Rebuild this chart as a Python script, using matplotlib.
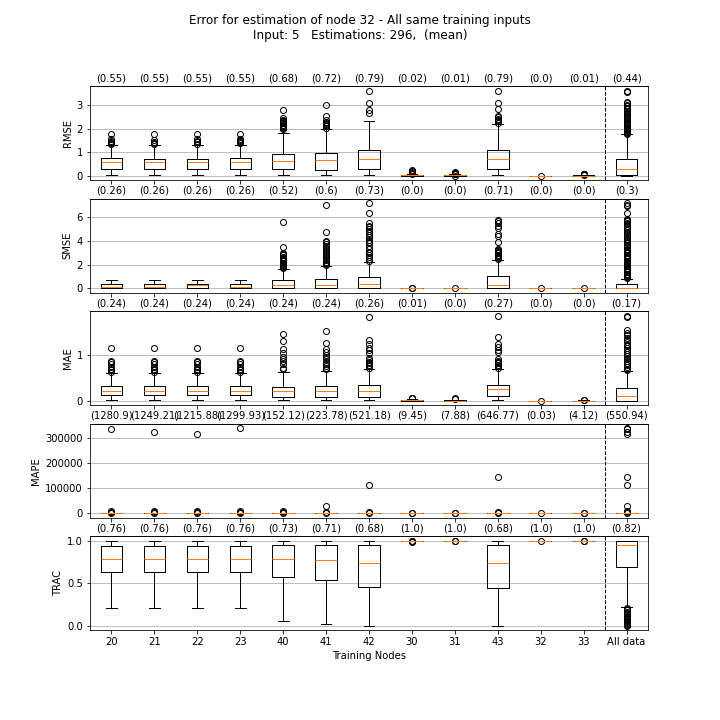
import matplotlib
matplotlib.use("Agg")
import matplotlib.pyplot as plt

# ---------------- data ----------------
nodes = ['20', '21', '22', '23', '40', '41', '42', '30', '31', '43', '32', '33', 'All data']
metrics = ['RMSE', 'SMSE', 'MAE', 'MAPE', 'TRAC']

# RMSE
rmse_q1 = [0.30, 0.30, 0.30, 0.30, 0.30, 0.25, 0.30, 0.0, 0.0, 0.30, 0.0, 0.0, 0.04]
rmse_med = [0.59, 0.59, 0.59, 0.59, 0.64, 0.68, 0.72, 0.02, 0.02, 0.72, 0.0, 0.01, 0.28]
rmse_q3 = [0.75, 0.72, 0.72, 0.75, 0.93, 0.97, 1.10, 0.05, 0.04, 1.10, 0.0, 0.02, 0.72]
rmse_lo = [0.04, 0.04, 0.04, 0.04, 0.04, 0.04, 0.04, 0.0, 0.0, 0.04, 0.0, 0.0, 0.0]
rmse_hi = [1.30, 1.30, 1.30, 1.30, 1.82, 1.99, 2.33, 0.09, 0.07, 2.20, 0.0, 0.03, 1.79]
rmse_fl = [
    [1.36, 1.40, 1.45, 1.50, 1.55, 1.79],
    [1.35, 1.40, 1.45, 1.52, 1.79],
    [1.36, 1.42, 1.47, 1.55, 1.79],
    [1.38, 1.43, 1.47, 1.52, 1.57, 1.79],
    [1.98, 2.03, 2.08, 2.13, 2.18, 2.23, 2.28, 2.33, 2.38, 2.47, 2.78],
    [2.05, 2.10, 2.15, 2.20, 2.25, 2.30, 2.36, 2.55, 3.00],
    [2.66, 2.80, 3.08, 3.60],
    [0.10, 0.14, 0.18, 0.22, 0.27],
    [0.0, 0.07, 0.10, 0.13, 0.16],
    [2.26, 2.32, 2.37, 2.42, 2.48, 2.55, 2.85, 3.10, 3.60],
    [0.0],
    [0.04, 0.06, 0.08, 0.10],
    [1.78, 1.82, 1.86, 1.90, 1.95, 2.00, 2.05, 2.10, 2.15, 2.20, 2.25, 2.30, 2.35,
     2.40, 2.45, 2.50, 2.56, 2.62, 2.68, 2.75, 2.82, 2.88, 2.95, 3.02, 3.08, 3.14,
     3.58, 3.62],
]
rmse_mean = ['0.55', '0.55', '0.55', '0.55', '0.68', '0.72', '0.79', '0.02', '0.01', '0.79', '0.0', '0.01', '0.44']

# SMSE
smse_q1 = [0.06, 0.06, 0.06, 0.06, 0.0, 0.0, 0.0, 0.0, 0.0, 0.0, 0.0, 0.0, 0.0]
smse_med = [0.14, 0.14, 0.27, 0.14, 0.28, 0.28, 0.34, 0.0, 0.0, 0.28, 0.0, 0.0, 0.01]
smse_q3 = [0.34, 0.34, 0.34, 0.34, 0.68, 0.76, 0.93, 0.002, 0.001, 1.05, 0.0, 0.0, 0.34]
smse_lo = [0.0, 0.0, 0.0, 0.0, 0.0, 0.0, 0.0, 0.0, 0.0, 0.0, 0.0, 0.0, 0.0]
smse_hi = [0.74, 0.74, 0.74, 0.74, 1.61, 1.90, 2.26, 0.005, 0.003, 2.38, 0.0, 0.0, 0.80]
smse_fl = [
    [], [], [], [],
    [1.68, 1.78, 1.88, 1.98, 2.08, 2.18, 2.28, 2.38, 2.48, 2.58, 2.68, 2.80, 2.92, 3.02, 3.50, 5.60],
    [1.95, 2.05, 2.15, 2.25, 2.40, 2.55, 2.70, 2.85, 3.00, 3.15, 3.30, 3.45, 3.60, 3.75,
     3.90, 4.00, 4.72, 7.02],
    [2.35, 2.50, 2.65, 2.80, 2.95, 3.10, 3.30, 3.55, 3.80, 3.90, 4.10, 4.30, 4.50, 4.70,
     4.85, 5.00, 5.15, 5.25, 5.50, 6.35, 7.20],
    [0.01, 0.03],
    [0.01],
    [2.45, 2.55, 2.65, 2.75, 2.85, 2.95, 3.05, 3.15, 3.25, 3.35, 3.90, 4.45, 4.55, 5.10,
     5.30, 5.55, 5.70, 5.80],
    [0.0],
    [0.01],
    [0.85, 0.95, 1.05, 1.15, 1.25, 1.35, 1.45, 1.55, 1.65, 1.75, 1.85, 1.95, 2.05, 2.15,
     2.25, 2.35, 2.45, 2.55, 2.65, 2.75, 2.85, 2.95, 3.05, 3.15, 3.25, 3.35, 3.50, 3.65,
     3.80, 3.90, 4.05, 4.20, 4.35, 4.50, 4.65, 4.80, 4.95, 5.10, 5.25, 5.40, 5.55, 5.70,
     5.80, 5.90, 6.35, 6.95, 7.05, 7.20],
]
smse_mean = ['0.26', '0.26', '0.26', '0.26', '0.52', '0.6', '0.73', '0.0', '0.0', '0.71', '0.0', '0.0', '0.3']

# MAE
mae_q1 = [0.13, 0.13, 0.13, 0.13, 0.09, 0.09, 0.09, 0.0, 0.0, 0.11, 0.0, 0.0, 0.0]
mae_med = [0.22, 0.22, 0.22, 0.22, 0.22, 0.22, 0.22, 0.01, 0.005, 0.25, 0.0, 0.003, 0.11]
mae_q3 = [0.33, 0.33, 0.33, 0.33, 0.30, 0.33, 0.35, 0.02, 0.01, 0.35, 0.0, 0.006, 0.28]
mae_lo = [0.02, 0.02, 0.02, 0.02, 0.02, 0.02, 0.02, 0.0, 0.0, 0.02, 0.0, 0.0, 0.0]
mae_hi = [0.60, 0.60, 0.60, 0.60, 0.62, 0.65, 0.70, 0.04, 0.02, 0.70, 0.0, 0.012, 0.65]
mae_fl = [
    [0.63, 0.66, 0.70, 0.74, 0.79, 0.84, 0.87, 1.15],
    [0.63, 0.66, 0.70, 0.74, 0.79, 0.84, 0.87, 1.15],
    [0.63, 0.66, 0.70, 0.74, 0.79, 0.84, 0.87, 1.15],
    [0.63, 0.66, 0.70, 0.74, 0.79, 0.84, 0.87, 1.15],
    [0.69, 0.72, 0.80, 0.86, 0.91, 0.96, 1.04, 1.13, 1.30, 1.44],
    [0.68, 0.72, 0.76, 0.80, 0.85, 0.90, 0.95, 1.00, 1.05, 1.12, 1.26, 1.52],
    [0.72, 0.75, 0.78, 0.81, 0.84, 0.88, 0.92, 1.04, 1.10, 1.15, 1.23, 1.31, 1.83],
    [0.05, 0.06, 0.07],
    [0.03, 0.05],
    [0.72, 0.75, 0.78, 0.81, 0.84, 0.87, 0.90, 1.05, 1.11, 1.17, 1.23, 1.39, 1.84],
    [0.0],
    [0.015, 0.02],
    [0.66, 0.70, 0.74, 0.78, 0.82, 0.86, 0.90, 0.94, 0.98, 1.02, 1.06, 1.10, 1.14, 1.18,
     1.22, 1.27, 1.32, 1.37, 1.43, 1.48, 1.53, 1.82, 1.85],
]
mae_mean = ['0.24', '0.24', '0.24', '0.24', '0.24', '0.24', '0.26', '0.01', '0.0', '0.27', '0.0', '0.0', '0.17']

# MAPE
mape_q1 = [0.3, 0.3, 0.3, 0.3, 0.3, 0.3, 0.3, 0.05, 0.05, 0.3, 0.0, 0.02, 0.1]
mape_med = [0.8, 0.8, 0.8, 0.8, 0.8, 0.8, 0.8, 0.1, 0.1, 0.8, 0.0, 0.05, 0.4]
mape_q3 = [2.0, 2.0, 2.0, 2.0, 2.0, 2.0, 2.0, 0.3, 0.3, 2.0, 0.0, 0.1, 1.2]
mape_lo = [0.0, 0.0, 0.0, 0.0, 0.0, 0.0, 0.0, 0.0, 0.0, 0.0, 0.0, 0.0, 0.0]
mape_hi = [4.0, 4.0, 4.0, 4.0, 4.0, 4.0, 4.0, 0.6, 0.6, 4.0, 0.0, 0.2, 3.0]
mape_fl = [
    [1500, 5000, 10000, 336000],
    [1500, 5000, 10000, 324000],
    [1500, 5000, 10000, 316000],
    [1500, 5000, 10000, 340000],
    [1500, 5000, 10000],
    [1500, 5000, 28000],
    [1500, 5000, 112000],
    [500, 1500],
    [500, 1500],
    [1500, 5000, 144000],
    [0.5],
    [300, 1000],
    [1500, 5000, 10000, 28000, 112000, 144000, 316000, 324000, 336000, 340000],
]
mape_mean = ['1280.9', '1249.21', '1215.88', '1299.93', '152.12', '223.78', '521.18',
             '9.45', '7.88', '646.77', '0.03', '4.12', '550.94']

# TRAC
trac_q1 = [0.63, 0.63, 0.63, 0.63, 0.57, 0.54, 0.46, 1.0, 1.0, 0.445, 1.0, 1.0, 0.69]
trac_med = [0.78, 0.78, 0.78, 0.78, 0.785, 0.77, 0.74, 1.0, 1.0, 0.74, 1.0, 1.0, 0.953]
trac_q3 = [0.94, 0.94, 0.94, 0.94, 0.95, 0.95, 0.95, 1.0, 1.0, 0.95, 1.0, 1.0, 1.0]
trac_lo = [0.21, 0.21, 0.21, 0.21, 0.055, 0.02, 0.0, 1.0, 1.0, 0.0, 1.0, 1.0, 0.22]
trac_hi = [1.0, 1.0, 1.0, 1.0, 1.0, 1.0, 1.0, 1.0, 1.0, 1.0, 1.0, 1.0, 1.0]
trac_fl = [
    [], [], [], [], [], [], [],
    [0.985, 0.99, 0.995],
    [0.99, 0.995],
    [],
    [0.998],
    [0.995, 0.998],
    [0.0, 0.01, 0.02, 0.03, 0.045, 0.06, 0.075, 0.09, 0.105, 0.12, 0.135, 0.15, 0.165,
     0.18, 0.195, 0.21],
]
trac_mean = ['0.76', '0.76', '0.76', '0.76', '0.73', '0.71', '0.68', '1.0', '1.0', '0.68', '1.0', '1.0', '0.82']

panels = [
    (rmse_q1, rmse_med, rmse_q3, rmse_lo, rmse_hi, rmse_fl, rmse_mean),
    (smse_q1, smse_med, smse_q3, smse_lo, smse_hi, smse_fl, smse_mean),
    (mae_q1, mae_med, mae_q3, mae_lo, mae_hi, mae_fl, mae_mean),
    (mape_q1, mape_med, mape_q3, mape_lo, mape_hi, mape_fl, mape_mean),
    (trac_q1, trac_med, trac_q3, trac_lo, trac_hi, trac_fl, trac_mean),
]

# ---------------- plot ----------------
fig, axes = plt.subplots(5, 1, figsize=(10, 10), dpi=72, sharex=True)
fig.subplots_adjust(left=0.125, right=0.9, top=0.88, bottom=0.125, hspace=0.2)
fig.suptitle("Error for estimation of node 32 - All same training inputs\n"
             "Input: 5   Estimations: 296,  (mean)")

positions = list(range(1, len(nodes) + 1))
for ax, name, (q1, med, q3, lo, hi, fl, mean) in zip(axes, metrics, panels):
    stats = []
    for i in range(len(nodes)):
        stats.append(dict(q1=q1[i], med=med[i], q3=q3[i], whislo=lo[i],
                          whishi=hi[i], fliers=fl[i], label=nodes[i]))
    ax.bxp(stats, positions=positions, widths=0.5, showfliers=True)
    ax.yaxis.grid(True, color='#b0b0b0')
    ax.set_axisbelow(True)
    ax.axvline(12.5, color='k', linestyle='--', linewidth=1)
    ax.set_ylabel(name)
    sec = ax.secondary_xaxis('top')
    sec.set_xticks(positions)
    sec.set_xticklabels(['(' + m + ')' for m in mean])
    sec.tick_params(length=0, pad=3)

axes[-1].set_xticks(positions)
axes[-1].set_xticklabels(nodes)
axes[-1].set_xlabel('Training Nodes')

fig.savefig('out.png', dpi=72)
